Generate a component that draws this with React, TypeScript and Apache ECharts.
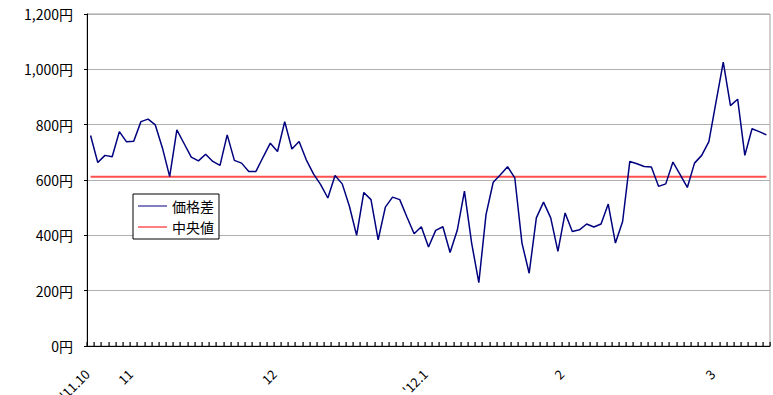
import React, { useEffect, useRef } from "react";
import * as echarts from "echarts";

// Daily price difference (yen), late Oct 2011 – mid Mar 2012
const priceDiff: number[] = [
  761, 663, 689, 684, 775, 738, 740, 811, 820, 799,
  715, 612, 781, 732, 683, 669, 693, 667, 653, 763,
  671, 661, 631, 631, 683, 733, 703, 811, 712, 739,
  673, 622, 583, 535, 616, 586, 505, 400, 555, 529,
  384, 502, 538, 529, 466, 406, 431, 358, 418, 431,
  338, 418, 560, 372, 229, 475, 592, 619, 648, 608,
  372, 263, 463, 520, 463, 342, 481, 414, 420, 441,
  430, 441, 513, 372, 450, 667, 659, 649, 647, 577,
  586, 665, 619, 573, 661, 689, 739, 883, 1026, 869,
  892, 689, 785, 775, 763,
];

// Median of the price difference
const MEDIAN = 612;

// First trading day of each month and its label
const monthStartIndex: number[] = [0, 6, 26, 47, 66, 87];
const monthLabels: string[] = ["'11.10", "11", "12", "'12.1", "2", "3"];

const yTicks = { min: 0, max: 1200, interval: 200 };

const categories: string[] = priceDiff.map((_, i) => String(i));
const medianLine: number[] = priceDiff.map(() => MEDIAN);
// [day index, 0, side]: side 0 = left edge of the day, 1 = right edge
const dayBoundaries: number[][] = [
  ...categories.map((_, i) => [i, 0, 0]),
  [categories.length - 1, 0, 1],
];

const FONT = "'Noto Sans CJK JP', 'Noto Sans', sans-serif";

export default function App() {
  const ref = useRef<HTMLDivElement>(null);

  useEffect(() => {
    if (!ref.current) return;
    const chart = echarts.init(ref.current, undefined, { renderer: "svg" });
    chart.setOption({
      animation: false,
      backgroundColor: "#ffffff",
      grid: {
        left: 87,
        right: 3,
        top: 14,
        bottom: 49,
        outerBoundsMode: "none",
        containLabel: false,
        show: true,
        borderColor: "#a0a0a0",
        borderWidth: 1,
      },
      legend: {
        left: 133,
        top: 194,
        orient: "vertical",
        backgroundColor: "#ffffff",
        borderColor: "#000000",
        borderWidth: 1,
        borderRadius: 0,
        padding: [4, 5, 4, 5],
        itemGap: 5,
        icon: "rect",
        itemWidth: 29,
        itemHeight: 1,
        textStyle: {
          fontFamily: FONT,
          fontSize: 14,
          lineHeight: 16,
          color: "#000000",
        },
        data: ["価格差", "中央値"],
      },
      xAxis: {
        type: "category",
        data: categories,
        boundaryGap: true,
        axisLine: { show: true, lineStyle: { color: "#000000", width: 1 } },
        axisTick: { show: false },
        axisLabel: {
          interval: 0,
          rotate: 45,
          margin: 22,
          padding: [0, 5, 0, 0],
          fontFamily: FONT,
          fontSize: 13,
          color: "#000000",
          formatter: (_: string, index: number) => {
            const k = monthStartIndex.indexOf(index);
            return k >= 0 ? monthLabels[k] : "";
          },
        },
        splitLine: { show: false },
      },
      yAxis: {
        type: "value",
        min: yTicks.min,
        max: yTicks.max,
        interval: yTicks.interval,
        axisLine: { show: true, lineStyle: { color: "#000000", width: 1 } },
        axisTick: { show: true, length: 3, lineStyle: { color: "#000000" } },
        axisLabel: {
          margin: 14,
          fontFamily: FONT,
          fontSize: 14,
          color: "#000000",
          formatter: (v: number) => v.toLocaleString("en-US") + "円",
        },
        splitLine: { show: true, lineStyle: { color: "#b0b0b0", width: 1 } },
      },
      series: [
        {
          name: "価格差",
          type: "line",
          data: priceDiff,
          symbol: "none",
          color: "#00007f",
          lineStyle: { color: "#00007f", width: 1.5 },
          z: 3,
        },
        {
          name: "中央値",
          type: "line",
          data: medianLine,
          symbol: "none",
          color: "#ff0000",
          lineStyle: { color: "#ff5050", width: 2 },
          z: 2,
        },
        {
          // short inward tick at every day boundary on the date axis
          name: "dayTicks",
          type: "custom",
          silent: true,
          clip: false,
          z: 5,
          data: dayBoundaries,
          encode: { x: 0, y: 1 },
          renderItem: (params: any, api: any) => {
            const i = api.value(0) as number;
            const side = api.value(2) as number;
            const p = api.coord([i, 0]);
            const w = api.size([1, 0])[0];
            const x = side ? p[0] + w / 2 : p[0] - w / 2;
            return {
              type: "rect",
              shape: { x: Math.round(x) - 0.5, y: p[1] - 4, width: 1.2, height: 4 },
              style: { fill: "#000000" },
            };
          },
        },
      ],
    });
    return () => chart.dispose();
  }, []);

  return (
    <div
      ref={ref}
      style={{ position: "fixed", left: 0, top: 0, width: 773, height: 395 }}
    />
  );
}
